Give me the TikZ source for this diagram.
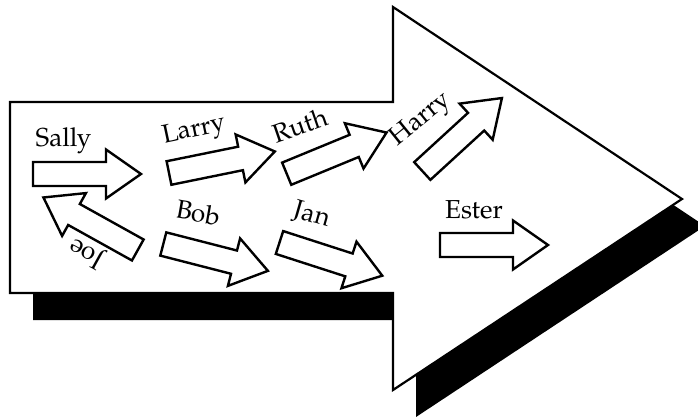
\documentclass[tikz,border=0pt]{standalone}
\usepackage{fontspec}
\setmainfont{TeX Gyre Pagella}
\begin{document}
\begin{tikzpicture}[x=1pt,y=-1pt,
  bigline/.style={draw=black,line width=2.2pt,fill=white,line join=miter},
  shadowfill/.style={fill=black},
  smallarrow/.style={draw=black,line width=2.4pt,fill=white,line join=miter},
  lbl/.style={font=\fontsize{26}{30}\selectfont,inner sep=0pt,anchor=base},
  blockarrow/.pic={\path[smallarrow] (0,-12) -- (73,-12) -- (73,-24.5) -- (108,0) -- (73,24.5) -- (73,12) -- (0,12) -- cycle;}
]
\useasboundingbox (0,0) rectangle (698,417);
% shadow of the big arrow
\fill[shadowfill,shift={(23,27)}] (10,102) -- (393,102) -- (393,7) -- (682,199) -- (393,390) -- (393,293) -- (10,293) -- cycle;
% big arrow
\path[bigline] (10,102) -- (393,102) -- (393,7) -- (682,199) -- (393,390) -- (393,293) -- (10,293) -- cycle;
% small arrows
\pic[rotate=0] at (33,174) {blockarrow};
\pic[rotate=11.5] at (169,173) {blockarrow};
\pic[rotate=22.4] at (286.7,173.7) {blockarrow};
\pic[rotate=42.5] at (422.3,171) {blockarrow};
\pic[rotate=150.9] at (137.8,250) {blockarrow};
\pic[rotate=-14.4] at (163.3,244) {blockarrow};
\pic[rotate=-17.9] at (279.5,242.5) {blockarrow};
\pic[rotate=0] at (440,245) {blockarrow};
% labels
\node[lbl] (sally) at (63.4,146.7) {Sally};
\node[lbl,rotate=12] (larry) at (195.5,136.5) {Larry};
\node[lbl,rotate=19] (ruth) at (303.5,134) {Ruth};
\node[lbl,rotate=39] (harry) at (424.5,124) {Harry};
\node[lbl,rotate=-10] (bob) at (197,221.7) {Bob};
\node[lbl,rotate=-16] (jan) at (310,222) {Jan};
\node[lbl] (ester) at (474,218.3) {Ester};
\node[lbl,anchor=center,rotate=151] (joe) at (87,253) {Joe};
\end{tikzpicture}
\end{document}
